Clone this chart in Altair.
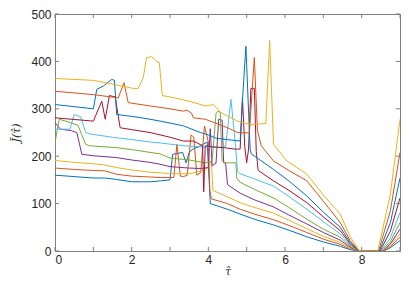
import altair as alt
import pandas as pd

# ---- data ----
series_names = ["s0", "s1", "s2", "s3", "s4", "s5", "s6", "s7", "s8", "s9"]
series_colors = ["#0072BD", "#D95319", "#EDB120", "#7E2F8E", "#77AC30",
                 "#4DBEEE", "#A2142F", "#0072BD", "#D95319", "#EDB120"]

x0 = [0, 0.5, 1.0, 1.3, 1.6, 2.0, 2.5, 2.75, 3.0, 3.07, 3.33, 3.42, 3.5, 3.6, 3.8, 3.97, 4.02, 4.05,
      4.5, 4.83, 5.2, 5.7, 6.1, 6.57, 7.0, 7.44, 7.65, 7.85, 8.0, 8.58, 8.75, 9.0]
y0 = [160, 157, 154, 154, 151, 146, 146, 148, 150, 204, 208, 186, 208, 215, 222, 230, 150, 100,
      88, 78, 67, 55, 44, 30, 19, 10, 4, 0.5, 0, 0, 7, 22]

x1 = [0, 0.5, 1.0, 1.3, 1.6, 2.0, 2.5, 2.75, 3.1, 3.18, 3.27, 3.35, 3.45, 3.55, 3.62, 3.7, 3.8,
      3.9, 4.0, 4.04, 4.08, 4.5, 4.83, 5.2, 5.7, 6.1, 6.57, 7.0, 7.44, 7.68, 7.88, 8.0, 8.56, 8.75, 9.0]
y1 = [175, 172, 170, 169, 162, 158, 156, 155, 155, 225, 158, 157, 160, 245, 240, 160, 165,
      264, 230, 128, 110, 100, 88, 78, 66, 54, 39, 25, 14, 5, 0.5, 0, 0, 9, 29]

x2 = [0, 0.5, 1.0, 1.26, 1.61, 2.0, 2.5, 2.74, 3.0, 3.5, 3.8, 4.0, 4.08, 4.12, 4.5, 4.83, 5.2,
      5.7, 6.1, 6.57, 7.0, 7.44, 7.7, 7.9, 8.0, 8.55, 8.75, 9.0]
y2 = [191, 187, 184, 182, 176, 171, 166, 165, 163, 163, 168, 176, 190, 128, 114, 102, 92,
      80, 65, 47, 31, 18, 6, 0.5, 0, 0, 12, 36]

x3 = [0, 0.14, 0.42, 0.57, 0.7, 1.0, 1.61, 2.0, 2.48, 2.74, 3.0, 3.5, 3.8, 4.0, 4.05, 4.1, 4.2,
      4.27, 4.36, 4.4, 4.45, 4.5, 4.83, 5.2, 5.7, 6.1, 6.57, 7.0, 7.44, 7.7, 7.9, 8.0, 8.54, 8.75, 9.0]
y3 = [271, 257, 254, 250, 204, 201, 197, 192, 187, 183, 178, 175, 174, 176, 258, 180, 185,
      278, 276, 186, 186, 140, 122, 108, 93, 76, 57, 39, 23, 8, 0.5, 0, 0, 15, 46]

x4 = [0, 0.11, 0.36, 0.6, 0.8, 0.9, 1.61, 2.0, 2.48, 2.74, 3.0, 3.5, 3.92, 4.1, 4.2, 4.25, 4.31,
      4.36, 4.45, 4.72, 4.74, 4.83, 5.2, 5.7, 6.1, 6.57, 7.0, 7.44, 7.7, 7.9, 8.0, 8.52, 8.75, 9.0]
y4 = [229, 278, 272, 265, 225, 222, 218, 214, 208, 205, 196, 192, 186, 190, 290, 295, 292,
      190, 186, 186, 154, 145, 130, 112, 92, 67, 46, 29, 10, 0.5, 0, 0, 20, 60]

x5 = [0, 0.39, 0.5, 0.67, 0.8, 0.9, 1.5, 2.0, 2.48, 2.74, 3.35, 3.92, 4.2, 4.45, 4.59, 4.7,
      4.76, 4.83, 5.2, 5.7, 6.1, 6.57, 7.0, 7.44, 7.7, 7.9, 8.0, 8.5, 8.75, 9.0]
y5 = [257, 257, 288, 283, 250, 247, 240, 235, 230, 228, 222, 219, 218, 220, 320, 230,
      168, 163, 152, 137, 115, 88, 62, 36, 12, 0.5, 0, 0, 28, 81]

x6 = [0, 1.0, 1.22, 1.31, 1.42, 1.57, 1.7, 2.0, 2.48, 3.0, 3.35, 3.61, 3.85, 3.88, 3.92, 4.08,
      4.4, 4.7, 4.83, 4.89, 4.95, 5.0, 5.05, 5.11, 5.2, 5.25, 5.3, 5.7, 6.1, 6.57, 7.0, 7.44,
      7.7, 7.92, 8.0, 8.48, 8.75, 9.0]
y6 = [281, 274, 316, 278, 328, 325, 260, 256, 250, 240, 232, 232, 222, 125, 222, 220,
      218, 215, 215, 323, 220, 186, 215, 343, 343, 210, 170, 148, 128, 102, 72, 43,
      15, 0.5, 0, 0, 42, 112]

x7 = [0, 1.0, 1.09, 1.26, 1.48, 1.55, 1.61, 2.0, 2.48, 3.0, 3.35, 3.79, 4.0, 4.2, 4.5, 4.83,
      4.9, 4.98, 5.09, 5.12, 5.7, 6.1, 6.57, 7.0, 7.44, 7.7, 7.92, 8.0, 8.46, 8.75, 9.0]
y7 = [309, 300, 341, 348, 362, 360, 288, 284, 278, 270, 264, 250, 245, 238, 235, 232,
      330, 432, 215, 205, 172, 148, 116, 82, 50, 18, 0.5, 0, 0, 60, 154]

x8 = [0, 1.0, 1.65, 1.8, 1.91, 2.48, 3.0, 3.35, 3.44, 3.56, 3.61, 3.92, 4.15, 4.5, 4.76, 5.07,
      5.2, 5.28, 5.38, 5.7, 6.1, 6.57, 7.0, 7.44, 7.7, 7.93, 8.0, 8.44, 8.75, 9.0]
y8 = [337, 330, 323, 355, 313, 306, 300, 295, 297, 291, 281, 278, 271, 260, 250, 249,
      408, 255, 222, 190, 170, 148, 105, 60, 22, 0.5, 0, 0, 85, 208]

x9 = [0, 1.0, 1.5, 2.04, 2.17, 2.3, 2.39, 2.52, 2.65, 2.72, 2.8, 3.0, 3.5, 3.92, 4.13, 4.33,
      4.66, 4.76, 5.11, 5.5, 5.6, 5.7, 6.05, 6.57, 7.0, 7.44, 7.7, 7.94, 8.0, 8.42, 8.75, 9.0]
y9 = [364, 360, 352, 343, 343, 365, 408, 410, 400, 398, 328, 325, 316, 306, 309, 292,
      278, 274, 267, 269, 444, 225, 190, 162, 118, 78, 30, 0.5, 0, 0, 120, 278]

x_ticks = [0, 1, 2, 3, 4, 5, 6, 7, 8, 9]
y_ticks = [0, 100, 200, 300, 400, 500]

xs = [x0, x1, x2, x3, x4, x5, x6, x7, x8, x9]
ys = [y0, y1, y2, y3, y4, y5, y6, y7, y8, y9]

rows = []
for name, xv, yv in zip(series_names, xs, ys):
    for i, (a, b) in enumerate(zip(xv, yv)):
        rows.append({"series": name, "i": i, "x": a, "y": b})
df = pd.DataFrame(rows)

W, H = 345, 237
AX = "#7f7f7f"
TXT = "#262626"

xscale = alt.Scale(domain=[0, 9], nice=False, zero=False)
yscale = alt.Scale(domain=[0, 500], nice=False)

lines = alt.Chart(df).mark_line(strokeWidth=1, clip=True).encode(
    x=alt.X("x:Q", scale=xscale,
            axis=alt.Axis(values=x_ticks, ticks=False, domain=False, grid=False,
                          labelFont="Liberation Sans", labelFontSize=12, labelColor=TXT,
                          labelPadding=3, title="\u03c4\u0302", titleFont="DejaVu Serif",
                          titleFontStyle="italic", titleFontWeight="normal", titleFontSize=11,
                          titleColor=TXT, titleY=23, titleBaseline="alphabetic")),
    y=alt.Y("y:Q", scale=yscale,
            axis=alt.Axis(values=y_ticks, ticks=False, domain=False, grid=False,
                          labelFont="Liberation Sans", labelFontSize=12, labelColor=TXT,
                          labelPadding=4, title="J\u0304(\u03c4\u0302)", titleFont="DejaVu Serif",
                          titleFontStyle="italic", titleFontWeight="normal", titleFontSize=11,
                          titleColor=TXT, titlePadding=9)),
    color=alt.Color("series:N", scale=alt.Scale(domain=series_names, range=series_colors),
                    legend=None),
    order=alt.Order("i:Q"),
)

xt = pd.DataFrame({"t": x_ticks})
yt = pd.DataFrame({"t": y_ticks})

xtick_b = alt.Chart(xt).mark_rule(color=AX, strokeWidth=1).encode(
    x=alt.X("t:Q", scale=xscale), y=alt.value(H), y2=alt.value(H - 4))
xtick_t = alt.Chart(xt).mark_rule(color=AX, strokeWidth=1).encode(
    x=alt.X("t:Q", scale=xscale), y=alt.value(0), y2=alt.value(4))
ytick_l = alt.Chart(yt).mark_rule(color=AX, strokeWidth=1).encode(
    y=alt.Y("t:Q", scale=yscale), x=alt.value(0), x2=alt.value(4))
ytick_r = alt.Chart(yt).mark_rule(color=AX, strokeWidth=1).encode(
    y=alt.Y("t:Q", scale=yscale), x=alt.value(W), x2=alt.value(W - 4))

chart = alt.layer(lines, xtick_b, xtick_t, ytick_l, ytick_r).properties(
    width=W, height=H,
    autosize=alt.AutoSizeParams(type="none"),
    padding={"left": 47, "top": 6, "right": 1, "bottom": 25},
    background="white",
).configure_view(stroke=AX, strokeWidth=1)

chart.save("out.html", embed_options={"renderer": "svg", "actions": False})
